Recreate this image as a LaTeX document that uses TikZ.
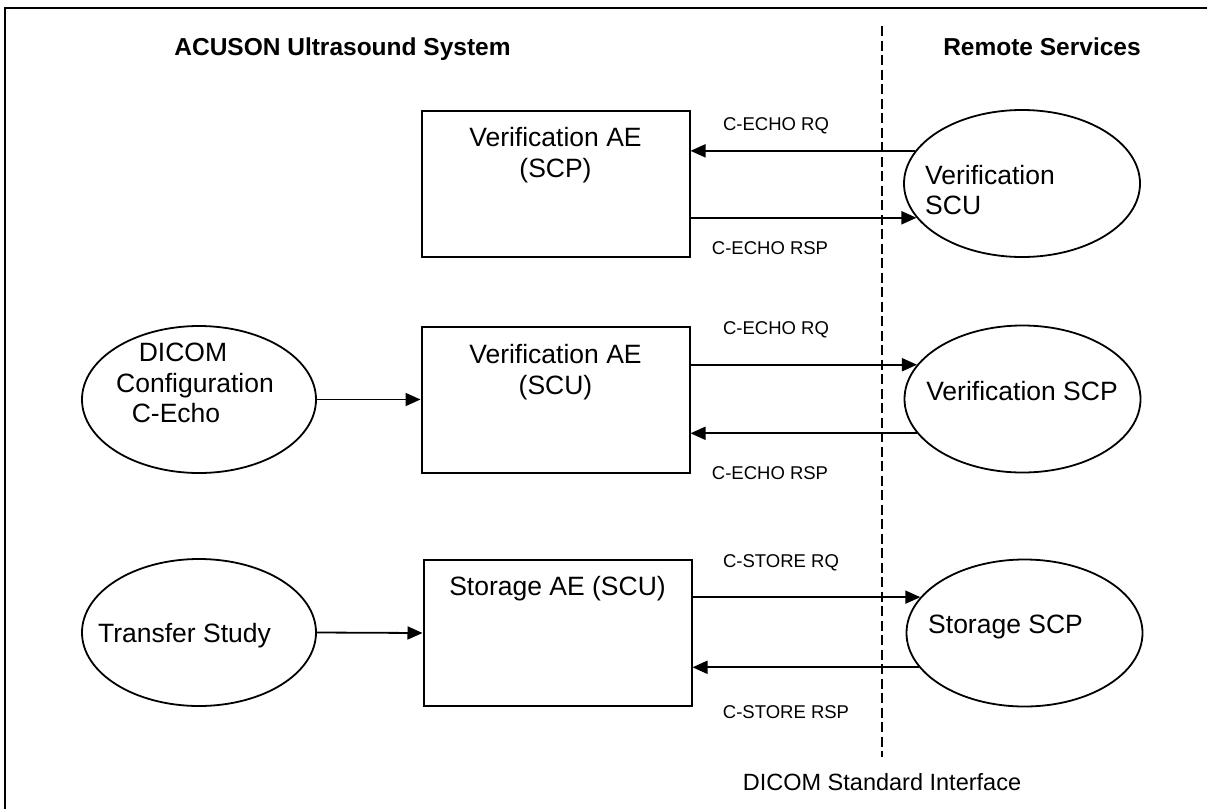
\documentclass[tikz,border=0pt]{standalone}
\usepackage{fontspec}
\setmainfont{Liberation Sans}
\usetikzlibrary{arrows.meta,shapes.geometric}
\tikzset{
  aebox/.style={draw, line width=2pt, rectangle, minimum width=268pt, minimum height=146pt, inner sep=0pt},
  svc/.style={draw, line width=1.8pt, ellipse, minimum width=236pt, minimum height=147pt, inner sep=0pt},
  lsvc/.style={draw, line width=1.8pt, ellipse, minimum width=234pt, minimum height=147pt, inner sep=0pt},
  big/.style={font=\fontsize{26.5}{31}\selectfont, inner sep=0pt, anchor=base},
  msg/.style={font=\fontsize{18.5}{22}\selectfont, inner sep=0pt, anchor=base},
  head/.style={font=\fontsize{24.5}{29}\selectfont\bfseries, inner sep=0pt, anchor=base},
  iface/.style={font=\fontsize{23.5}{28}\selectfont, inner sep=0pt, anchor=base},
  arr/.style={line width=1.8pt, -{Triangle[length=15pt,width=13pt]}},
  frameline/.style={line width=2pt},
  divider/.style={line width=1.6pt, dash pattern=on 10pt off 4.5pt}
}
\begin{document}
\begin{tikzpicture}[x=1pt,y=-1pt]
\useasboundingbox (0,0) rectangle (1207,809);
% frame
\coordinate (fbl) at (5,809);
\coordinate (ftl) at (5,8);
\coordinate (ftr) at (1207,8);
\draw[frameline] (fbl) -- (ftl) -- (ftr);
% divider
\coordinate (dtop) at (882,26);
\coordinate (dbot) at (882,757);
\draw[divider] (dtop) -- (dbot);
% headings
\node[head] (hleft) at (342.5,55) {ACUSON Ultrasound System};
\node[head] (hright) at (1042,55) {Remote Services};
\node[iface] (ifc) at (882,790) {DICOM Standard Interface};
% boxes
\node[aebox] (b1) at (555.5,183.5) {};
\node[aebox] (b2) at (555.5,399.5) {};
\node[aebox] (b3) at (557.5,633) {};
\node[big] (b1t1) at (555.5,146) {Verification AE};
\node[big] (b1t2) at (555.5,177) {(SCP)};
\node[big] (b2t1) at (555.5,363) {Verification AE};
\node[big] (b2t2) at (555.5,394) {(SCU)};
\node[big] (b3t1) at (557.5,595) {Storage AE (SCU)};
% remote ellipses
\node[svc] (e1) at (1022,183.5) {};
\node[svc] (e2) at (1022.5,399) {};
\node[svc] (e3) at (1024.5,633) {};
\node[big, anchor=base west] (e1t1) at (925,184) {Verification};
\node[big, anchor=base west] (e1t2) at (925,214) {SCU};
\node[big] (e2t1) at (1022,400) {Verification SCP};
\node[big, anchor=base west] (e3t1) at (928,633) {Storage SCP};
% local ellipses
\node[lsvc] (l2) at (199,399.5) {};
\node[lsvc] (l3) at (199,632.5) {};
\node[big] (l2t1) at (183,361) {DICOM};
\node[big] (l2t2) at (195,392) {Configuration};
\node[big] (l2t3) at (176,422) {C-Echo};
\node[big] (l3t1) at (184.5,642) {Transfer Study};
% local arrows
\draw[arr] (l2.east) -- (b2.west);
\draw[arr] (l3.east) -- (b3.west);
% row 1
\draw[arr] (e1.163) -- (e1.163 -| b1.east);
\draw[arr] (e1.198 -| b1.east) -- (e1.198);
\node[msg] (m1a) at (776,130) {C-ECHO RQ};
\node[msg] (m1b) at (770,254) {C-ECHO RSP};
% row 2
\draw[arr] (e2.162 -| b2.east) -- (e2.162);
\draw[arr] (e2.198) -- (e2.198 -| b2.east);
\node[msg] (m2a) at (776,334) {C-ECHO RQ};
\node[msg] (m2b) at (770,479) {C-ECHO RSP};
% row 3
\draw[arr] (e3.161 -| b3.east) -- (e3.161);
\draw[arr] (e3.198) -- (e3.198 -| b3.east);
\node[msg] (m3a) at (781,567) {C-STORE RQ};
\node[msg] (m3b) at (786,718) {C-STORE RSP};
\end{tikzpicture}
\end{document}
